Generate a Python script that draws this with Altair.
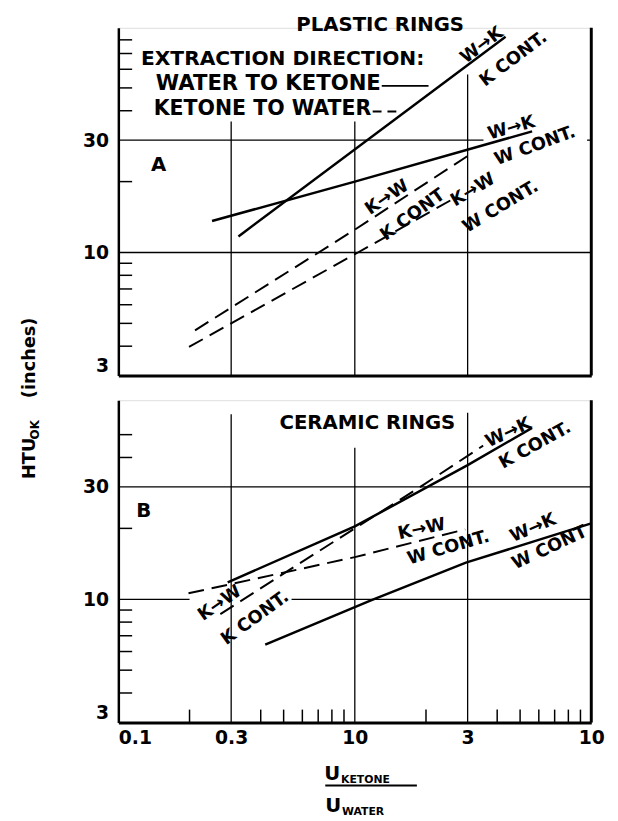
import json
import altair as alt
import pandas as pd

FONT = "DejaVu Sans"
W, HA, HB = 480, 353, 327

# ---------------- data ----------------
# Panel A : plastic rings
a_wk_k_x = [0.322, 4.34]
a_wk_k_y = [11.7, 82.5]
a_wk_w_x = [0.249, 1.0, 5.62]
a_wk_w_y = [13.6, 20.0, 32.7]
a_kw_k_x = [0.211, 1.0, 3.0]
a_kw_k_y = [4.67, 12.5, 25.7]
a_kw_w_x = [0.199, 1.0, 2.69]
a_kw_w_y = [3.97, 9.83, 17.2]
# Panel B : ceramic rings
b_wk_k_x = [0.29, 1.0, 3.0, 5.62]
b_wk_k_y = [11.8, 20.4, 37.1, 53.4]
b_kw_k_x = [0.27, 0.527, 1.95, 3.49]
b_kw_k_y = [8.65, 13.3, 30.6, 44.9]
b_kw_w_x = [0.198, 1.0, 2.93]
b_kw_w_y = [10.6, 15.1, 19.8]
b_wk_w_x = [0.418, 1.17, 2.95, 10.0]
b_wk_w_y = [6.42, 9.9, 14.3, 21.0]

x_tick_values = [0.1, 0.3, 1, 3, 10]
x_tick_labels = ["0.1", "0.3", "10", "3", "10"]
y_tick_values = [3, 10, 30]
y_tick_labels = ["3", "10", "30"]
a_minor_y = [4, 5, 6, 7, 8, 9, 20, 40, 50, 60, 70, 80]
b_minor_y = [4, 5, 6, 7, 8, 9, 20, 40, 50]
b_minor_x = [0.2, 0.4, 0.5, 0.6, 0.7, 0.8, 0.9, 2, 4, 5, 6, 7, 8, 9]

# grid segments (value, from, to)
a_vgrid = [(0.3, 3, 36), (1, 3, 36), (3, 3, 57)]
a_hgrid = [(30, 0.1, 3.5), (30, 9.6, 10), (10, 0.1, 10)]
b_vgrid = [(0.3, 3, 61), (1, 3, 44), (3, 3, 62)]
b_hgrid = [(30, 0.1, 10), (10, 0.1, 0.2), (10, 0.54, 10)]

# annotations: text, x, y, angle, size
a_labels_center = [
    ("PLASTIC RINGS", 1.28, 92.6, 0, 20),
    ("A", 0.148, 23.4, 0, 20),
    ("W→K", 3.45, 75.7, 323, 18),
    ("K CONT.", 4.69, 66.1, 323, 18),
    ("W→K", 4.60, 33.7, 344, 18),
    ("W CONT.", 5.79, 28.3, 340, 18),
    ("K→W", 1.37, 17.1, 326, 18),
    ("K CONT", 1.76, 14.4, 324, 18),
    ("K→W", 3.16, 18.4, 329, 18),
    ("W CONT.", 4.14, 15.6, 329, 18),
]
a_labels_left = [
    ("EXTRACTION DIRECTION:", 0.1247, 66.1, 0, 20.5),
    ("WATER TO KETONE", 0.144, 52.0, 0, 21.5),
    ("KETONE TO WATER", 0.141, 40.8, 0, 20.8),
]
a_key_solid = (1.30, 2.05, 51.0)
a_key_dash = (1.19, 1.585, 39.7)

b_labels_center = [
    ("CERAMIC RINGS", 1.13, 56.1, 0, 20),
    ("B", 0.128, 23.6, 0, 20),
    ("W→K", 4.47, 50.9, 335, 18),
    ("K CONT.", 5.79, 44.9, 331, 18),
    ("K→W", 0.269, 9.6, 325, 18),
    ("K CONT.", 0.379, 8.3, 324, 18),
    ("K→W", 1.92, 19.8, 348, 18),
    ("W CONT.", 2.49, 16.5, 344, 18),
    ("W→K", 5.68, 20.0, 337, 18),
    ("W CONT", 6.68, 16.5, 335, 18),
]


def series_df(items):
    rows = []
    for name, xs, ys in items:
        for i, (x, y) in enumerate(zip(xs, ys)):
            rows.append({"series": name, "i": i, "x": x, "y": y})
    return pd.DataFrame(rows)


label_expr = f"{json.dumps(x_tick_labels)}[indexof({json.dumps(x_tick_values)}, datum.value)]"
ylabel_expr = f"{json.dumps(y_tick_labels)}[indexof({json.dumps(y_tick_values)}, datum.value)]"


def panel(ymax, height, solid, dashed, minor_y, vgrid, hgrid, lab_c, lab_l, keys, show_x, minor_x, extra):
    xs = alt.Scale(type="log", domain=[0.1, 10], nice=False)
    ys = alt.Scale(type="log", domain=[3, ymax], nice=False)
    if show_x:
        xaxis = alt.Axis(values=x_tick_values, labelExpr=label_expr, ticks=False, grid=False,
                         domainWidth=3, domainColor="black", labelFontSize=19, labelFont=FONT,
                         labelFontWeight="bold", labelColor="black", labelPadding=6, title=None,
                         labelAlign={"condition": {"test": "datum.value < 0.15", "value": "left"},
                                     "value": "center"})
    else:
        xaxis = alt.Axis(labels=False, ticks=False, grid=False, domainWidth=3,
                         domainColor="black", title=None)
    yaxis = alt.Axis(values=y_tick_values, labelExpr=ylabel_expr, ticks=False, grid=False,
                     domainWidth=2.5, domainColor="black", labelFontSize=19, labelFont=FONT,
                     labelFontWeight="bold", labelColor="black", labelPadding=10, title=None,
                     labelFlush=True)

    def X(f):
        return alt.X(f, scale=xs, axis=xaxis)

    def Y(f):
        return alt.Y(f, scale=ys, axis=yaxis)

    layers = []
    sdf = series_df(solid)
    layers.append(
        alt.Chart(sdf).mark_line(color="black", strokeWidth=2.5).encode(
            x=X("x:Q"), y=Y("y:Q"), detail="series:N", order="i:Q")
    )
    ddf = series_df(dashed)
    layers.append(
        alt.Chart(ddf).mark_line(color="black", strokeWidth=2, strokeDash=[16, 8]).encode(
            x=X("x:Q"), y=Y("y:Q"), detail="series:N", order="i:Q")
    )
    vg = pd.DataFrame([{"x": v, "y0": a, "y1": b} for v, a, b in vgrid])
    layers.append(alt.Chart(vg).mark_rule(color="black", strokeWidth=1.3).encode(
        x=X("x:Q"), y=Y("y0:Q"), y2="y1:Q"))
    hg = pd.DataFrame([{"y": v, "x0": a, "x1": b} for v, a, b in hgrid])
    layers.append(alt.Chart(hg).mark_rule(color="black", strokeWidth=1.3).encode(
        y=Y("y:Q"), x=X("x0:Q"), x2="x1:Q"))
    my = pd.DataFrame({"y": minor_y})
    layers.append(alt.Chart(my).mark_rule(color="black", strokeWidth=1.5).encode(
        y=Y("y:Q"), x=alt.value(0), x2=alt.value(14)))
    if minor_x:
        mx = pd.DataFrame({"x": minor_x})
        layers.append(alt.Chart(mx).mark_rule(color="black", strokeWidth=1.5).encode(
            x=X("x:Q"), y=alt.value(height), y2=alt.value(height - 13)))
    rb = pd.DataFrame({"x": [10]})
    layers.append(alt.Chart(rb).mark_rule(color="black", strokeWidth=3).encode(
        x=X("x:Q"), y=alt.value(0), y2=alt.value(height)))
    for (x0, x1, yv), dash in keys:
        kd = pd.DataFrame([{"x0": x0, "x1": x1, "y": yv}])
        m = alt.Chart(kd).mark_rule(color="black", strokeWidth=2, strokeDash=dash)
        layers.append(m.encode(x=X("x0:Q"), x2="x1:Q", y=Y("y:Q")))
    for labs, align in ((lab_c, "center"), (lab_l, "left")):
        if not labs:
            continue
        ld = pd.DataFrame([{"t": t, "x": x, "y": y, "a": a, "s": s} for t, x, y, a, s in labs])
        layers.append(alt.Chart(ld).mark_text(font=FONT, fontWeight="bold", color="black",
                                              align=align, baseline="middle").encode(
            x=X("x:Q"), y=Y("y:Q"),
            text="t:N", angle=alt.Angle("a:Q", scale=None), size=alt.Size("s:Q", scale=None)))
    layers.extend(extra)
    return alt.layer(*layers).properties(width=W, height=height)


def txt(t, x, y, size, angle=0, align="center"):
    return alt.Chart().mark_text(text=t, font=FONT, fontWeight="bold", fontSize=size,
                                 angle=angle, align=align, baseline="middle",
                                 color="black").encode(x=alt.value(x), y=alt.value(y))


# y-axis title (pixel offsets relative to panel A)
ytitle = [
    txt("(inches)", -90, 335, 18, 270),
    txt("HTU", -90, 437, 18, 270),
    txt("OK", -85, 408, 12, 270),
]
# x-axis title (relative to panel B)
bar = alt.Chart().mark_rule(color="black", strokeWidth=2).encode(
    x=alt.value(210), x2=alt.value(303), y=alt.value(391))
xtitle = [
    txt("U", 217, 379, 20),
    txt("KETONE", 226, 385, 11, 0, "left"),
    bar,
    txt("U", 218, 412, 20),
    txt("WATER", 227, 418, 11, 0, "left"),
]

A = panel(90, HA,
          [("wk_k", a_wk_k_x, a_wk_k_y), ("wk_w", a_wk_w_x, a_wk_w_y)],
          [("kw_k", a_kw_k_x, a_kw_k_y), ("kw_w", a_kw_w_x, a_kw_w_y)],
          a_minor_y, a_vgrid, a_hgrid, a_labels_center, a_labels_left,
          [(a_key_solid, [1, 0]), (a_key_dash, [9, 6])], False, None, ytitle)
B = panel(70, HB,
          [("wk_k", b_wk_k_x, b_wk_k_y), ("wk_w", b_wk_w_x, b_wk_w_y)],
          [("kw_k", b_kw_k_x, b_kw_k_y), ("kw_w", b_kw_w_x, b_kw_w_y)],
          b_minor_y, b_vgrid, b_hgrid, b_labels_center, [],
          [], True, b_minor_x, xtitle)

chart = alt.vconcat(A, B, spacing=25, bounds="flush").properties(
    padding={"left": 12, "top": 0, "right": 5, "bottom": 0}
).configure_view(stroke=None).configure(background="white")

chart.save("out.html", embed_options={"renderer": "svg", "actions": False})
